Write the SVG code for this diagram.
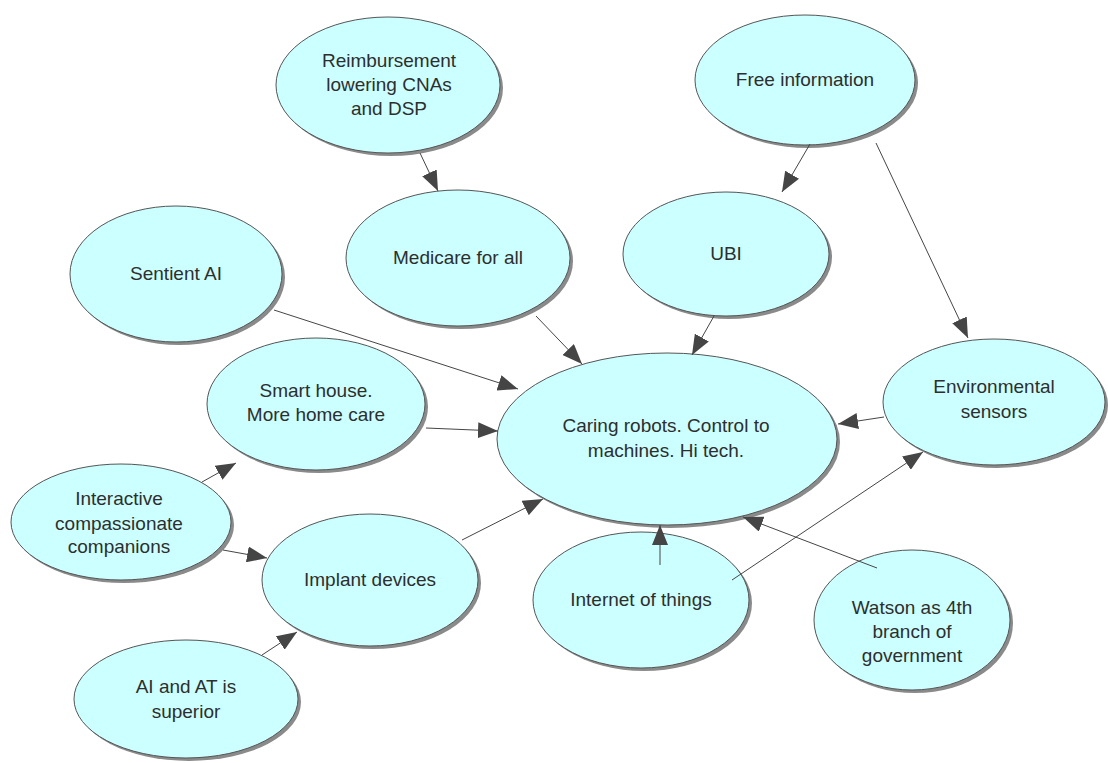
<svg xmlns="http://www.w3.org/2000/svg" width="1108" height="763" viewBox="0 0 1108 763">
  <defs>
    <marker id="arrow" viewBox="0 0 20 16" refX="20" refY="8" markerWidth="20" markerHeight="16" markerUnits="userSpaceOnUse" orient="auto">
      <path d="M0,0 L20,8 L0,16 Z" fill="#454545"/>
    </marker>
  </defs>
  <style>
    .shadow { fill: #8a8a8a; }
    .node { fill: #ccffff; stroke: #555; stroke-width: 1; }
    .label { font-family: "Liberation Sans", Arial, sans-serif; font-size: 19px; fill: #2e2e2e; text-anchor: middle; }
    .edge { stroke: #454545; stroke-width: 1; fill: none; marker-end: url(#arrow); }
  </style>
  <rect width="1108" height="763" fill="#ffffff"/>

  <g id="reimbursement">
    <ellipse class="shadow" cx="391" cy="88" rx="112" ry="68"/>
    <ellipse class="node" cx="388" cy="85" rx="112" ry="68"/>
    <text class="label" x="389" y="67">Reimbursement</text>
    <text class="label" x="389" y="91">lowering CNAs</text>
    <text class="label" x="389" y="115">and DSP</text>
  </g>

  <g id="free-information">
    <ellipse class="shadow" cx="808" cy="83" rx="110" ry="65"/>
    <ellipse class="node" cx="805" cy="80" rx="110" ry="65"/>
    <text class="label" x="805" y="86">Free information</text>
  </g>

  <g id="medicare">
    <ellipse class="shadow" cx="461" cy="261" rx="112" ry="68"/>
    <ellipse class="node" cx="458" cy="258" rx="112" ry="68"/>
    <text class="label" x="458" y="264">Medicare for all</text>
  </g>

  <g id="ubi">
    <ellipse class="shadow" cx="729" cy="257" rx="103" ry="62"/>
    <ellipse class="node" cx="726" cy="254" rx="103" ry="62"/>
    <text class="label" x="726" y="260">UBI</text>
  </g>

  <g id="sentient-ai">
    <ellipse class="shadow" cx="179" cy="277" rx="106" ry="68"/>
    <ellipse class="node" cx="176" cy="274" rx="106" ry="68"/>
    <text class="label" x="176" y="280">Sentient AI</text>
  </g>

  <g id="caring-robots">
    <ellipse class="shadow" cx="670" cy="442" rx="170" ry="86"/>
    <ellipse class="node" cx="667" cy="439" rx="170" ry="86"/>
    <text class="label" x="666" y="432">Caring robots. Control to</text>
    <text class="label" x="666" y="457">machines. Hi tech.</text>
  </g>

  <g id="environmental-sensors">
    <ellipse class="shadow" cx="997" cy="405" rx="111" ry="63"/>
    <ellipse class="node" cx="994" cy="402" rx="111" ry="63"/>
    <text class="label" x="994" y="393">Environmental</text>
    <text class="label" x="994" y="418">sensors</text>
  </g>

  <g id="smart-house">
    <ellipse class="shadow" cx="319" cy="407" rx="109" ry="66"/>
    <ellipse class="node" cx="316" cy="404" rx="109" ry="66"/>
    <text class="label" x="316" y="397">Smart house.</text>
    <text class="label" x="316" y="421">More home care</text>
  </g>

  <g id="interactive-companions">
    <ellipse class="shadow" cx="124" cy="525" rx="110" ry="58"/>
    <ellipse class="node" cx="121" cy="522" rx="110" ry="58"/>
    <text class="label" x="119" y="505">Interactive</text>
    <text class="label" x="119" y="530">compassionate</text>
    <text class="label" x="119" y="553">companions</text>
  </g>

  <g id="implant-devices">
    <ellipse class="shadow" cx="373" cy="583" rx="108" ry="66"/>
    <ellipse class="node" cx="370" cy="580" rx="108" ry="66"/>
    <text class="label" x="370" y="586">Implant devices</text>
  </g>

  <g id="internet-of-things">
    <ellipse class="shadow" cx="644" cy="603" rx="108" ry="68"/>
    <ellipse class="node" cx="641" cy="600" rx="108" ry="68"/>
    <text class="label" x="641" y="606">Internet of things</text>
  </g>

  <g id="watson">
    <ellipse class="shadow" cx="915" cy="623" rx="98" ry="70"/>
    <ellipse class="node" cx="912" cy="620" rx="98" ry="70"/>
    <text class="label" x="912" y="614">Watson as 4th</text>
    <text class="label" x="912" y="638">branch of</text>
    <text class="label" x="912" y="662">government</text>
  </g>

  <g id="ai-at-superior">
    <ellipse class="shadow" cx="189" cy="702" rx="112" ry="59"/>
    <ellipse class="node" cx="186" cy="699" rx="112" ry="59"/>
    <text class="label" x="186" y="693">AI and AT is</text>
    <text class="label" x="186" y="718">superior</text>
  </g>

  <!-- connectors run from edge to edge, drawn above the nodes so heads stay visible -->
  <g id="connectors">
    <line class="edge" x1="420" y1="153" x2="438" y2="191"/>
    <line class="edge" x1="810" y1="144" x2="782" y2="192"/>
    <line class="edge" x1="876" y1="143" x2="968" y2="338"/>
    <line class="edge" x1="274" y1="310" x2="518" y2="389"/>
    <line class="edge" x1="536" y1="316" x2="582" y2="364"/>
    <line class="edge" x1="714" y1="316" x2="692" y2="355"/>
    <line class="edge" x1="884" y1="417" x2="838" y2="424"/>
    <line class="edge" x1="426" y1="428" x2="498" y2="431"/>
    <line class="edge" x1="202" y1="482" x2="236" y2="463"/>
    <line class="edge" x1="223" y1="550" x2="267" y2="558"/>
    <line class="edge" x1="462" y1="540" x2="543" y2="499"/>
    <line class="edge" x1="262" y1="655" x2="297" y2="632"/>
    <line class="edge" x1="660" y1="565" x2="660" y2="525"/>
    <line class="edge" x1="732" y1="580" x2="923" y2="452"/>
    <line class="edge" x1="877" y1="568" x2="743" y2="517"/>
  </g>
</svg>
